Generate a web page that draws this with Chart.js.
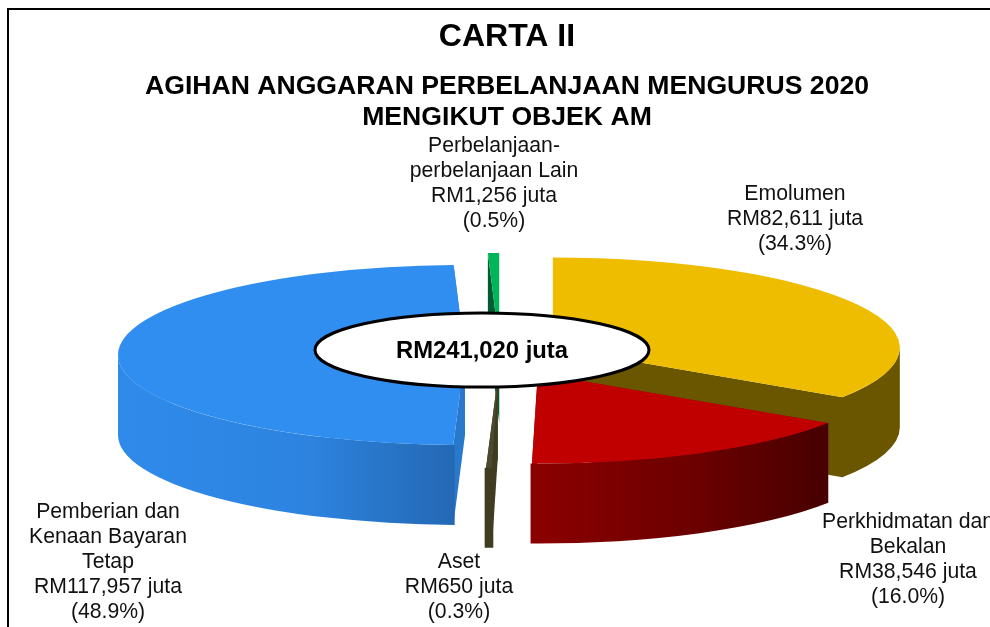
<!DOCTYPE html>
<html>
<head>
<meta charset="utf-8">
<style>
html,body{margin:0;padding:0;background:#fff;overflow:hidden}
canvas{display:block}
</style>
<script src="https://cdn.jsdelivr.net/npm/chart.js@4"></script>
</head>
<body>
<canvas id="c" width="990" height="627"></canvas>
<script>
const titleText = 'CARTA II';
const subtitleLines = ['AGIHAN ANGGARAN PERBELANJAAN MENGURUS 2020', 'MENGIKUT OBJEK AM'];
const centerText = 'RM241,020 juta';
const categories = ['Emolumen', 'Perkhidmatan dan Bekalan', 'Aset', 'Pemberian dan Kenaan Bayaran Tetap', 'Perbelanjaan-perbelanjaan Lain'];
const values = [82611, 38546, 650, 117957, 1256];
const percents = ['34.3', '16.0', '0.3', '48.9', '0.5'];
const labelNameLines = [
  ['Emolumen'],
  ['Perkhidmatan dan', 'Bekalan'],
  ['Aset'],
  ['Pemberian dan', 'Kenaan Bayaran', 'Tetap'],
  ['Perbelanjaan-', 'perbelanjaan Lain']
];
const topColors = ['#eebd00', '#c00000', '#4b4930', '#2f8eef', '#00b45a'];
const faceColors = ['#6b5600', '#8f0000', '#3f3c22', '#2878cc', '#005c30'];
const wallLeftColors = ['#6b5600', '#8c0000', '#3f3c22', '#2f8aea', '#005c30'];
const wallMidColors = ['#6b5600', '#6c0000', '#3f3c22', '#2d84e0', '#005c30'];
const wallRightColors = ['#6b5600', '#470000', '#3f3c22', '#2468b4', '#005c30'];
const explode = [60, 81, 88, 35, 46];
const paintOrder = [4, 0, 3, 2, 1];
const labelAnchors = [[795, 193], [908, 521], [459, 561], [108, 511], [494, 145]];

const pieCenter = {x: 500, y: 355};
const radiusX = 347, radiusY = 90, depth = 80;
const labelFont = '21.2px "Liberation Sans", Arial, sans-serif';
const lineGap = 25;

const pie3d = {
  id: 'pie3d',
  beforeDraw(chart) {
    const ctx = chart.ctx;
    ctx.save();
    ctx.fillStyle = '#fff';
    ctx.fillRect(0, 0, chart.width, chart.height);
    ctx.strokeStyle = '#000';
    ctx.lineWidth = 2;
    ctx.beginPath();
    ctx.moveTo(8, chart.height);
    ctx.lineTo(8, 9);
    ctx.lineTo(chart.width, 9);
    ctx.stroke();
    ctx.restore();
  },
  beforeDatasetDraw(chart, args) {
    const ctx = chart.ctx;
    const arcs = args.meta.data;
    paintOrder.forEach(i => {
      const arc = arcs[i];
      const R = arc.outerRadius;
      const sx = radiusX / R, sy = radiusY / R;
      const a0 = arc.startAngle, a1 = arc.endAngle;
      const mid = (a0 + a1) / 2;
      const dx = explode[i] * Math.cos(mid);
      const dy = explode[i] * Math.sin(mid) * radiusY / radiusX;
      const z = depth / sy;
      ctx.save();
      ctx.translate(pieCenter.x + dx, pieCenter.y + dy);
      ctx.scale(sx, sy);
      ctx.translate(-arc.x, -arc.y);
      // straight cut faces
      ctx.fillStyle = faceColors[i];
      [a0, a1].forEach(a => {
        const ex = arc.x + R * Math.cos(a), ey = arc.y + R * Math.sin(a);
        ctx.beginPath();
        ctx.moveTo(arc.x, arc.y);
        ctx.lineTo(ex, ey);
        ctx.lineTo(ex, ey + z);
        ctx.lineTo(arc.x, arc.y + z);
        ctx.closePath();
        ctx.fill();
      });
      // curved outer wall, front part only, lapping slightly over the faces
      const f0 = Math.max(a0 - 0.004, 0), f1 = Math.min(a1 + 0.004, Math.PI);
      if (f1 > f0) {
        const xl = arc.x + R * Math.cos(f1), xr = arc.x + R * Math.cos(f0);
        const g = ctx.createLinearGradient(xl, 0, xr, 0);
        g.addColorStop(0, wallLeftColors[i]);
        g.addColorStop(0.55, wallMidColors[i]);
        g.addColorStop(1, wallRightColors[i]);
        ctx.fillStyle = g;
        ctx.beginPath();
        ctx.arc(arc.x, arc.y, R, f0, f1);
        ctx.arc(arc.x, arc.y + z, R, f1, f0, true);
        ctx.closePath();
        ctx.fill();
      }
      arc.draw(ctx);
      ctx.restore();
    });
    return false;
  },
  afterDatasetsDraw(chart) {
    const ctx = chart.ctx;
    ctx.save();
    ctx.beginPath();
    ctx.ellipse(482, 350, 167, 37, 0, 0, Math.PI * 2);
    ctx.fillStyle = '#fff';
    ctx.fill();
    ctx.lineWidth = 3;
    ctx.strokeStyle = '#000';
    ctx.stroke();
    ctx.fillStyle = '#000';
    ctx.textAlign = 'center';
    ctx.textBaseline = 'middle';
    ctx.font = 'bold 23.8px "Liberation Sans", Arial, sans-serif';
    ctx.fillText(centerText, 482, 351);
    ctx.font = labelFont;
    ctx.fillStyle = '#111';
    values.forEach((v, i) => {
      const lines = labelNameLines[i].concat(['RM' + v.toLocaleString('en-US') + ' juta', '(' + percents[i] + '%)']);
      lines.forEach((t, k) => ctx.fillText(t, labelAnchors[i][0], labelAnchors[i][1] + k * lineGap + 1));
    });
    ctx.restore();
  }
};

new Chart(document.getElementById('c'), {
  type: 'pie',
  data: {
    labels: categories,
    datasets: [{data: values, backgroundColor: topColors, borderWidth: 0}]
  },
  plugins: [pie3d],
  options: {
    responsive: false,
    animation: false,
    layout: {padding: {left: 24, top: 18}},
    plugins: {
      legend: {display: false},
      tooltip: {enabled: false},
      title: {
        display: true,
        text: titleText,
        color: '#000',
        font: {family: '"Liberation Sans", Arial, sans-serif', size: 32, weight: 'bold'},
        padding: {top: 0, bottom: 15}
      },
      subtitle: {
        display: true,
        text: subtitleLines,
        color: '#000',
        font: {family: '"Liberation Sans", Arial, sans-serif', size: 26.6, weight: 'bold', lineHeight: 1.165},
        padding: {top: 0, bottom: 0}
      }
    }
  }
});
</script>
</body>
</html>
